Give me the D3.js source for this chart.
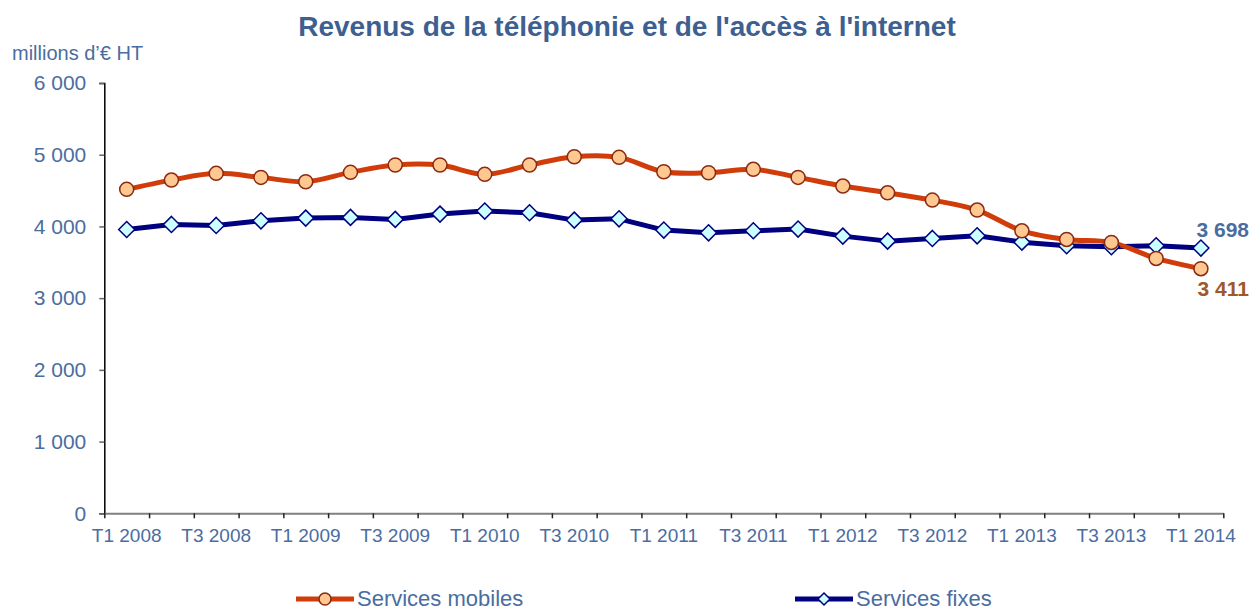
<!DOCTYPE html>
<html>
<head>
<meta charset="utf-8">
<script src="https://cdn.jsdelivr.net/npm/d3@7"></script>
<style>
body{margin:0;background:#fff;}
text{font-family:"Liberation Sans",Arial,sans-serif;}
</style>
</head>
<body>
<script>
var w = 1253;
var h = 610;

// quarters T1 2008 .. T1 2014
var quarters = [];
for(var y = 2008; y <= 2014; y++){
    for(var q = 1; q <= 4; q++){
        if(y == 2014 && q > 1) break;
        quarters.push("T" + q + " " + y);
    }
}

var mobiles = [4517,4646,4740,4684,4623,4754,4856,4856,4726,4856,
               4972,4963,4762,4748,4796,4684,4563,4469,4367,4228,
               3939,3819,3777,3554,3411];
var fixes   = [3958,4028,4014,4078,4116,4126,4098,4172,4214,4190,
               4088,4106,3949,3911,3939,3963,3865,3795,3833,3869,
               3781,3730,3716,3730,3698];
var yTicks = [0,1000,2000,3000,4000,5000,6000];

var blueTxt = "#4a6d9f";
var orange = "#d03c0a";
var navy = "#000080";

var fr = d3.formatLocale({decimal:",", thousands:" ", grouping:[3], currency:["","€"]});
var fmt = fr.format(",");

var svg = d3.select("body").append("svg")
            .attr("width", w)
            .attr("height", h);

// index scale, categories centred between ticks
var x = d3.scaleLinear().domain([-0.5, quarters.length - 0.5]).range([104.3, 1223.3]);
var yS = d3.scaleLinear().domain([0, 6000]).range([513.3, 83]);

// title
svg.append("text")
   .attr("x", 627).attr("y", 36)
   .attr("text-anchor", "middle")
   .attr("font-size", 28).attr("font-weight", "bold")
   .attr("fill", "#3d6090")
   .text("Revenus de la téléphonie et de l'accès à l'internet");

svg.append("text")
   .attr("x", 12).attr("y", 60)
   .attr("font-size", 20)
   .attr("fill", blueTxt)
   .text("millions d’€ HT");

// y axis
var yAxis = svg.append("g")
   .attr("transform", "translate(104.3,0)")
   .call(d3.axisLeft(yS).tickValues(yTicks).tickSize(5).tickPadding(13).tickFormat(fmt));
yAxis.select(".domain").attr("stroke", "#000").attr("stroke-width", 1.5);
yAxis.selectAll(".tick line").attr("stroke", "#666").attr("stroke-width", 1.5);
yAxis.selectAll("text").attr("font-size", 21).attr("fill", blueTxt)
     .attr("font-family", "'Liberation Sans',Arial,sans-serif");

// x axis
var edges = d3.range(quarters.length + 1).map(function(i){ return i - 0.5; });
var xAxis = svg.append("g")
   .attr("transform", "translate(0,513.3)")
   .call(d3.axisBottom(x).tickValues(edges).tickSize(5).tickSizeOuter(0).tickFormat(""));
xAxis.select(".domain").attr("stroke", "#808080").attr("stroke-width", 2);
xAxis.selectAll(".tick line").attr("stroke", "#222").attr("stroke-width", 1.5);

svg.append("g").selectAll("text")
   .data(quarters.filter(function(d, i){ return i % 2 == 0; }))
   .enter().append("text")
   .attr("x", function(d){ return x(quarters.indexOf(d)); })
   .attr("y", 542)
   .attr("text-anchor", "middle")
   .attr("font-size", 19)
   .attr("fill", blueTxt)
   .text(function(d){ return d; });

// lines
var lineSmooth = d3.line()
    .x(function(d, i){ return x(i); })
    .y(function(d){ return yS(d); })
    .curve(d3.curveCatmullRom);
var lineStraight = d3.line()
    .x(function(d, i){ return x(i); })
    .y(function(d){ return yS(d); });

svg.append("path").attr("d", lineStraight(fixes))
   .attr("fill", "none").attr("stroke", navy).attr("stroke-width", 5)
   .attr("stroke-linejoin", "round");
svg.append("path").attr("d", lineSmooth(mobiles))
   .attr("fill", "none").attr("stroke", orange).attr("stroke-width", 5)
   .attr("stroke-linejoin", "round");

var diamond = "M0,-8L8,0L0,8L-8,0Z";

svg.append("g").selectAll("path")
   .data(fixes).enter().append("path")
   .attr("d", diamond)
   .attr("transform", function(d, i){ return "translate(" + x(i) + "," + yS(d) + ")"; })
   .attr("fill", "#ccffff").attr("stroke", navy).attr("stroke-width", 1.5);

svg.append("g").selectAll("circle")
   .data(mobiles).enter().append("circle")
   .attr("cx", function(d, i){ return x(i); })
   .attr("cy", function(d){ return yS(d); })
   .attr("r", 7)
   .attr("fill", "#ffc890").attr("stroke", "#8a2a12").attr("stroke-width", 1.5);

// end values
var last = quarters.length - 1;
svg.append("text")
   .attr("x", 1249).attr("y", yS(fixes[last]) - 11)
   .attr("text-anchor", "end")
   .attr("font-size", 21).attr("font-weight", "bold")
   .attr("fill", "#4a6d9f")
   .text(fmt(fixes[last]));
svg.append("text")
   .attr("x", 1249).attr("y", yS(mobiles[last]) + 27)
   .attr("text-anchor", "end")
   .attr("font-size", 21).attr("font-weight", "bold")
   .attr("fill", "#a0582a")
   .text(fmt(mobiles[last]));

// legend
var legend = [
  {name:"Services mobiles", x:296, color:orange, mark:"circle"},
  {name:"Services fixes", x:795, color:navy, mark:"diamond"}
];
var lg = svg.append("g").selectAll("g").data(legend).enter().append("g")
   .attr("transform", function(d){ return "translate(" + d.x + ",599)"; });
lg.append("line").attr("x1", 0).attr("x2", 58).attr("y1", 0).attr("y2", 0)
   .attr("stroke", function(d){ return d.color; }).attr("stroke-width", 5);
lg.filter(function(d){ return d.mark == "circle"; }).append("circle")
   .attr("cx", 29).attr("r", 6)
   .attr("fill", "#ffc890").attr("stroke", "#8a2a12").attr("stroke-width", 1.5);
lg.filter(function(d){ return d.mark == "diamond"; }).append("path")
   .attr("d", "M0,-6L6,0L0,6L-6,0Z").attr("transform", "translate(29,0)")
   .attr("fill", "#ccffff").attr("stroke", navy).attr("stroke-width", 1.5);
lg.append("text").attr("x", 61).attr("y", 7)
   .attr("font-size", 22).attr("fill", blueTxt)
   .text(function(d){ return d.name; });
</script>
</body>
</html>
